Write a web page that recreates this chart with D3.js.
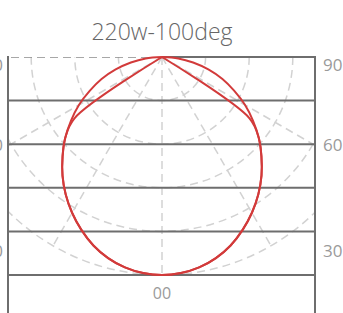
<!DOCTYPE html>
<html>
<head>
<meta charset="utf-8">
<script src="https://cdn.jsdelivr.net/npm/d3@7"></script>
<style>
  html, body { margin: 0; padding: 0; background: #fff; }
  svg { display: block; }
</style>
</head>
<body>
<div id="polar-chart"></div>
<script>
// angles from nadir (deg) and relative intensity (% of max)
var angles = [0, 5, 10, 15, 20, 25, 30, 35, 40, 45, 50, 55, 60, 65, 70, 75, 80, 85, 90];
var planeC0 = [100, 99.5, 98, 95.5, 92, 87.5, 82.5, 77, 71, 64.5, 58, 51, 44, 36.5, 29.5, 22, 14.5, 7.5, 0];
var planeC90 = [100, 99.5, 98, 95.5, 92, 87.5, 82.5, 77, 71, 64.5, 58, 49, 0, 0, 0, 0, 0, 0, 0];
var rings = [20, 40, 60, 80, 100];
var spokes = [-90, -60, -30, 0, 30, 60, 90];
var sideLabels = ["90", "60", "30"];
var title = "220w-100deg";

var svgWidth = 343, svgHeight = 313;
var svg = d3.select("#polar-chart").append("svg")
  .attr("width", svgWidth)
  .attr("height", svgHeight);

var frame = {left: 8, right: 315, top: 57, bottom: 313};
var cx = 162, cy = 57;

var r = d3.scaleLinear().domain([0, 100]).range([0, 218]);
var rad = d3.scaleLinear().domain([0, 180]).range([0, Math.PI]);

svg.append("defs").append("clipPath").attr("id", "clip")
  .append("rect")
  .attr("x", frame.left).attr("y", frame.top)
  .attr("width", frame.right - frame.left)
  .attr("height", frame.bottom - frame.top);

var grid = svg.append("g").attr("clip-path", "url(#clip)")
  .append("g").attr("transform", "translate(" + cx + "," + cy + ")");

// dashed rings
grid.selectAll("circle.ring").data(rings).enter().append("circle")
  .attr("class", "ring")
  .attr("r", d => r(d))
  .attr("fill", "none")
  .attr("stroke", "#d2d2d2")
  .attr("stroke-width", 1.5)
  .attr("stroke-dasharray", "8,5");

// dashed spokes (0 deg points down)
grid.selectAll("line.spoke").data(spokes).enter().append("line")
  .attr("class", "spoke")
  .attr("x1", 0).attr("y1", 0)
  .attr("x2", d => r(100) * Math.sin(rad(d)))
  .attr("y2", d => r(100) * Math.cos(rad(d)))
  .attr("stroke", d => d === -90 ? "#8a8a8a" : "#d2d2d2")
  .attr("stroke-width", 1.5)
  .attr("stroke-dasharray", "8,5");

// solid frame lines
var bands = [0].concat(rings);
svg.selectAll("line.band").data(bands).enter().append("line")
  .attr("class", "band")
  .attr("x1", d => d === 0 ? cx : frame.left)
  .attr("x2", frame.right)
  .attr("y1", d => cy + r(d))
  .attr("y2", d => cy + r(d))
  .attr("stroke", "#6e6e6e")
  .attr("stroke-width", 2);

svg.selectAll("line.side").data([frame.left, frame.right]).enter().append("line")
  .attr("class", "side")
  .attr("x1", d => d).attr("x2", d => d)
  .attr("y1", frame.top - 1).attr("y2", frame.bottom)
  .attr("stroke", "#6e6e6e")
  .attr("stroke-width", 2);

// curves, mirrored about nadir
function fullCurve(vals) {
  var pts = [];
  for (var i = angles.length - 1; i > 0; i--) pts.push([-angles[i], vals[i]]);
  for (var j = 0; j < angles.length; j++) pts.push([angles[j], vals[j]]);
  return pts;
}

var g = svg.append("g")
  .attr("transform", "translate(" + cx + "," + cy + ")");

var curve = d3.lineRadial()
  .angle(d => Math.PI - rad(d[0]))
  .radius(d => r(d[1]))
  .curve(d3.curveCatmullRom.alpha(0.5));

[planeC0, planeC90].forEach(vals => {
  g.append("path")
    .datum(fullCurve(vals))
    .attr("fill", "none")
    .attr("stroke", "#d23a3a")
    .attr("stroke-width", 2)
    .attr("stroke-linejoin", "round")
    .attr("d", curve);
});

// labels
var labelY = [65, 145, 251];
svg.selectAll("text.rlab").data(sideLabels).enter().append("text")
  .attr("class", "rlab")
  .attr("x", 323)
  .attr("y", (d, i) => labelY[i])
  .attr("dy", "0.35em")
  .attr("fill", "#9a9a9a")
  .style("font", "17px 'Open Sans', sans-serif")
  .text(d => d);

svg.selectAll("text.llab").data(sideLabels).enter().append("text")
  .attr("class", "llab")
  .attr("x", 3)
  .attr("y", (d, i) => labelY[i])
  .attr("dy", "0.35em")
  .attr("text-anchor", "end")
  .attr("fill", "#9a9a9a")
  .style("font", "17px 'Open Sans', sans-serif")
  .text(d => d);

svg.append("text")
  .attr("x", cx)
  .attr("y", 293)
  .attr("dy", "0.35em")
  .attr("text-anchor", "middle")
  .attr("fill", "#9a9a9a")
  .style("font", "16px 'Open Sans', sans-serif")
  .text("00");

svg.append("text")
  .attr("x", 162)
  .attr("y", 32)
  .attr("dy", "0.35em")
  .attr("text-anchor", "middle")
  .attr("fill", "#666")
  .style("font", "300 23px 'Open Sans', sans-serif")
  .text(title);
</script>
</body>
</html>
